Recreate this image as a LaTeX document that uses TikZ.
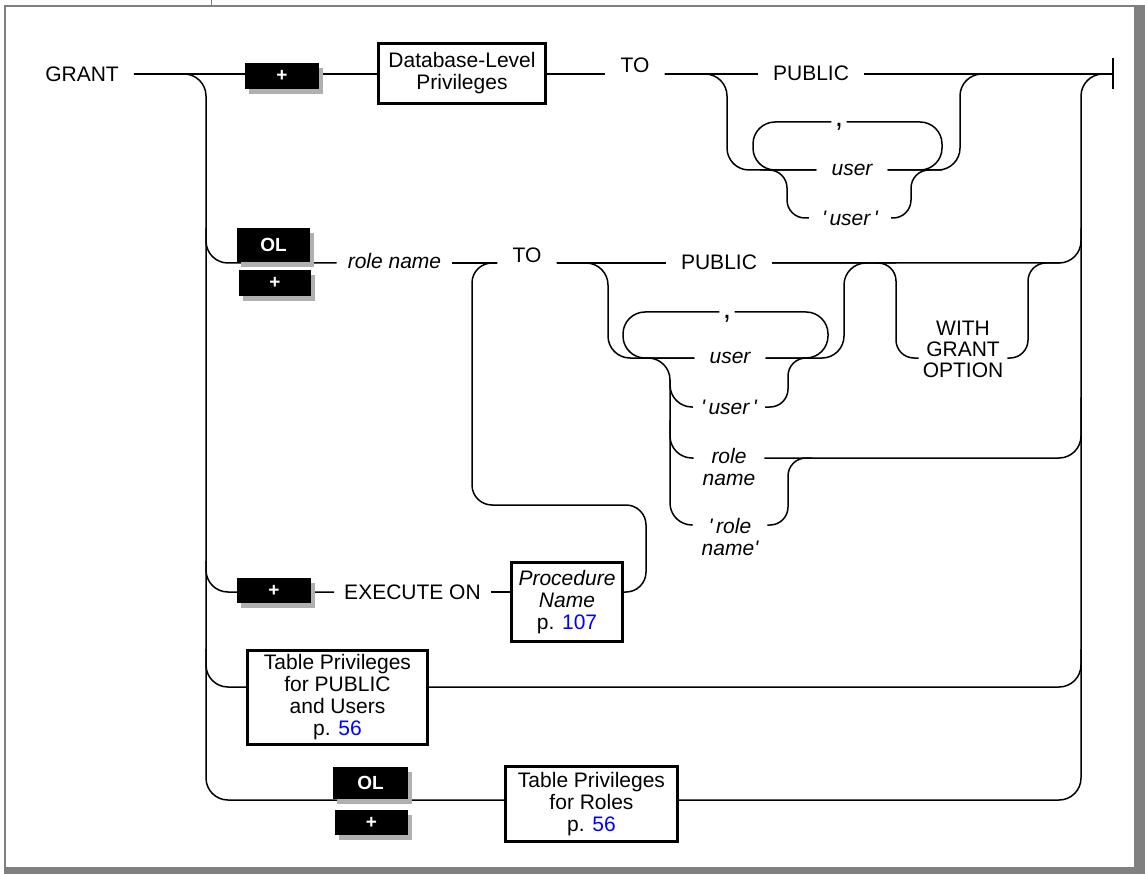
\documentclass[tikz,border=0pt]{standalone}
\usepackage{fontspec}
\setmainfont{Liberation Sans}
\usetikzlibrary{shadows,backgrounds}
\definecolor{frame}{RGB}{128,128,128}
\definecolor{shade}{RGB}{176,176,176}
\definecolor{linkblue}{RGB}{0,0,255}

\begin{document}
\begin{tikzpicture}[x=1pt, y=-1pt, font=\fontsize{21}{22}\selectfont,
  rail/.style={line width=1.5pt, rounded corners=22pt},
  kw/.style={inner xsep=15pt, inner ysep=2pt},
  var/.style={kw, font=\fontsize{21}{22}\selectfont\itshape},
  sep/.style={inner xsep=3.3pt, inner ysep=0pt, font=\fontsize{30}{30}\selectfont},
  refbox/.style={draw, line width=2.8pt, fill=white, align=center, inner sep=1pt},
  blk/.style={fill=black, text=white, inner sep=0pt, font=\fontsize{19}{20}\selectfont\bfseries,
    drop shadow={shadow xshift=4pt, shadow yshift=-5pt, fill=shade, opacity=1}}]
\useasboundingbox (0,0) rectangle (1145,874);
\draw[frame, line width=2.5pt] (5,874) -- (5,6) -- (1145,6);
\fill[frame] (1134,7) rectangle (1145,874);
\fill[frame] (4,867) rectangle (1145,874);
\draw[frame, line width=1pt] (211,0) -- (211,6);

\coordinate (r1) at (0,74);
\coordinate (r2) at (0,263);
\coordinate (r3) at (0,592);
\coordinate (r4) at (0,687);
\coordinate (r5) at (0,800);
\coordinate (lrail) at (206,0);
\coordinate (rrail) at (1081,0);
\coordinate (endbar) at (1113,74);

\node[kw] (grant) at (82,74) {GRANT};
\node[blk, minimum width=74pt, minimum height=26pt] (plus1) at (282,76) {+};
\node[refbox, minimum width=167pt, minimum height=60pt] (dbp) at (462,73.5) {Database-Level\\Privileges};
\node[kw] (to1) at (635,65) {TO};
\node[kw] (pub1) at (811,73) {PUBLIC};
\node[var] (user1) at (852,170) {user};
\node[sep] (comma1) at (839,127) {,};
\node[var, inner xsep=13pt] (quser1) at (850,218) {\textquotesingle\,user\,\textquotesingle};

\node[blk, minimum width=73pt, minimum height=34pt] (ol1) at (273.5,245) {OL};
\node[blk, minimum width=72pt, minimum height=26pt] (plus2) at (275,283) {+};
\node[var, inner xsep=11pt] (role) at (394.5,261) {role name};
\node[kw] (to2) at (527,255) {TO};
\node[kw] (pub2) at (719,262) {PUBLIC};
\node[var] (user2) at (730,358) {user};
\node[sep] (comma2) at (727,319) {,};
\node[var, inner xsep=8pt] (quser2) at (729,407) {\textquotesingle\,user\,\textquotesingle};
\node[var, align=center, inner xsep=9pt] (rname) at (729,467) {role\\name};
\node[var, align=center, inner xsep=9pt] (qrname) at (730,537) {\textquotesingle\,role\\name\textquotesingle};
\node[align=center, inner xsep=4pt, font=\fontsize{21}{21}\selectfont] (wgo) at (963,349) {WITH\\GRANT\\OPTION};

\node[blk, minimum width=74pt, minimum height=25pt] (plus3) at (274,590.5) {+};
\node[kw, inner xsep=10pt] (exec) at (412.5,592) {EXECUTE ON};
\node[refbox, minimum width=111pt, minimum height=79pt] (proc) at (567,602) {{\itshape Procedure}\\{\itshape Name}\\p. \textcolor{linkblue}{107}};
\node[refbox, minimum width=180pt, minimum height=94pt] (tpub) at (337.5,697.5) {Table Privileges\\for PUBLIC\\and Users\\p. \textcolor{linkblue}{56}};
\node[blk, minimum width=75pt, minimum height=32pt] (ol2) at (370.5,783) {OL};
\node[blk, minimum width=73pt, minimum height=25pt] (plus5) at (371.5,822.5) {+};
\node[refbox, minimum width=172pt, minimum height=75pt] (troles) at (591.5,804) {Table Privileges\\for Roles\\p. \textcolor{linkblue}{56}};

\begin{scope}[on background layer]
\draw[rail] (grant.east) -- (dbp.west |- grant.east);
\draw[rail] (grant.east) -| (lrail |- r5) -- (troles.west |- r5);
\draw[rail] (troles.east |- r5) -| (rrail |- r1) -- (endbar);
\draw[rail] (dbp.east |- r1) -- (to1.west |- r1);
\draw[rail] (to1.east |- r1) -- (pub1.west |- r1);
\draw[rail] (pub1.east |- r1) -- (endbar);
\draw[line width=1.5pt] (endbar) ++(0,-16) -- ++(0,31);
\draw[rail] (to1.east |- r1) -| (727,170) -- (user1.west);
\draw[rail] (user1.east) -| (960,74) -- (endbar);
\draw[rail] (user1.east) -| (942,122) -- (comma1.east |- 0,122);
\draw[rail] (comma1.west |- 0,122) -| (753,170) -- (user1.west);
\draw[rail, rounded corners=18pt] (760,170) -| (787,218) -- (quser1.west);
\draw[rail, rounded corners=18pt] (quser1.east) -| (911,170) -- (942,170);

\draw[rail] (lrail |- ol1.north) |- (role.west |- r2);
\draw[rail] (role.east |- r2) -- (to2.west |- r2);
\draw[rail] (to2.east |- r2) -- (pub2.west |- r2);
\draw[rail] (pub2.east |- r2) -| (rrail |- ol1.north);
\draw[rail, rounded corners=20pt] (proc.east |- r3) -| (646,505) -| (472,263) -- (to2.west |- r2);
\draw[rail] (to2.east |- r2) -| (608,358) -- (user2.west);
\draw[rail] (user2.east) -| (844,263) -- (896,263);
\draw[rail] (user2.east) -| (828,312) -- (comma2.east |- 0,312);
\draw[rail] (comma2.west |- 0,312) -| (623,358) -- (user2.west);
\draw[rail] (640,358) -| (670,525) -- (qrname.west |- 0,525);
\draw[rail] (670,380) |- (quser2.west);
\draw[rail] (670,420) |- (rname.west |- 0,458);
\draw[rail, rounded corners=18pt] (quser2.east) -| (788,358) -- (812,358);
\draw[rail, rounded corners=18pt] (qrname.east |- 0,525) -| (788,458) -- (812,458);
\draw[rail] (rname.east |- 0,458) -| (rrail |- quser2.north);
\draw[rail, rounded corners=18pt] (pub2.east |- r2) -| (896,358) -- (wgo.west |- 0,358);
\draw[rail, rounded corners=18pt] (wgo.east |- 0,358) -| (1028,263) -- (1060,263);

\draw[rail] (lrail |- proc.north) |- (exec.west);
\draw[rail] (exec.east) -- (proc.west |- exec.east);
\draw[rail] (lrail |- tpub.north) |- (tpub.west |- r4);
\draw[rail] (tpub.east |- r4) -| (rrail |- tpub.north);
\end{scope}
\end{tikzpicture}
\end{document}
